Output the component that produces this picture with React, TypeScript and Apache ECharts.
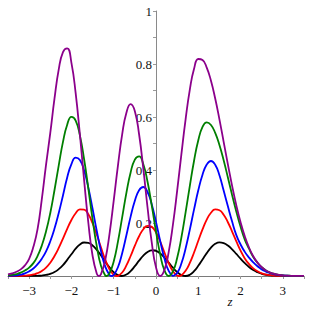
import React, { useEffect, useRef } from "react";
import * as echarts from "echarts";

// sampling grid (z)
const X = [
  -3.5, -3.4, -3.3, -3.2, -3.1, -3.0, -2.9, -2.8, -2.7, -2.6,
  -2.5, -2.4, -2.3, -2.2, -2.1, -2.0, -1.9, -1.8, -1.7, -1.6,
  -1.5, -1.4, -1.3, -1.2, -1.1, -1.0, -0.9, -0.8, -0.7, -0.6,
  -0.5, -0.4, -0.3, -0.2, -0.1, 0.0, 0.1, 0.2, 0.3, 0.4,
  0.5, 0.6, 0.7, 0.8, 0.9, 1.0, 1.1, 1.2, 1.3, 1.4,
  1.5, 1.6, 1.7, 1.8, 1.9, 2.0, 2.1, 2.2, 2.3, 2.4,
  2.5, 2.6, 2.7, 2.8, 2.9, 3.0, 3.1, 3.2, 3.3, 3.4, 3.5,
];

const BLACK = [
  0, 0, 0, 0.0001, 0.0001, 0.0002, 0.0004, 0.0008, 0.0018, 0.004,
  0.008, 0.015, 0.026, 0.041, 0.061, 0.082, 0.103, 0.119, 0.1265, 0.125,
  0.115, 0.0986, 0.0773, 0.0542, 0.0324, 0.0147, 0.0034, 0, 0.0054, 0.0185,
  0.0371, 0.0578, 0.0768, 0.0907, 0.0968, 0.0945, 0.0848, 0.0693, 0.0505, 0.0313,
  0.0149, 0.0039, 0, 0.0047, 0.0182, 0.0384, 0.0623, 0.0864, 0.107, 0.1213,
  0.127, 0.124, 0.115, 0.1005, 0.0832, 0.0652, 0.0483, 0.0338, 0.0224, 0.0141,
  0.0083, 0.0047, 0.0025, 0.0012, 0.0006, 0.0003, 0.0001, 0.0001, 0, 0, 0,
];
const RED = [
  0, 0.0001, 0.0003, 0.0006, 0.0013, 0.0028, 0.0057, 0.0106, 0.0189, 0.0317,
  0.0503, 0.0752, 0.106, 0.1414, 0.178, 0.2114, 0.237, 0.2512, 0.2507, 0.2327,
  0.199, 0.1555, 0.1072, 0.0617, 0.0257, 0.0045, 0.0007, 0.0134, 0.0399, 0.0754,
  0.1145, 0.15, 0.1765, 0.1893, 0.1854, 0.1643, 0.13, 0.0887, 0.0487, 0.0177,
  0.0015, 0.0028, 0.0196, 0.0495, 0.0887, 0.1328, 0.1757, 0.2128, 0.2388, 0.2513,
  0.2483, 0.2313, 0.2029, 0.1678, 0.1307, 0.0959, 0.0664, 0.045, 0.029, 0.018,
  0.01, 0.0055, 0.003, 0.0015, 0.0008, 0.0004, 0.0002, 0.0001, 0, 0, 0,
];
const BLUE = [
  0.0005, 0.0011, 0.0024, 0.0049, 0.0096, 0.0175, 0.0285, 0.0445, 0.0655, 0.093,
  0.131, 0.179, 0.238, 0.304, 0.372, 0.422, 0.447, 0.4378, 0.398, 0.3335,
  0.2537, 0.1697, 0.093, 0.0352, 0.004, 0.0038, 0.0329, 0.0861, 0.1537, 0.224,
  0.2841, 0.3238, 0.3358, 0.317, 0.2703, 0.2041, 0.1315, 0.0657, 0.019, 0.0002,
  0.0109, 0.047, 0.1041, 0.1752, 0.2513, 0.3233, 0.3822, 0.4206, 0.434, 0.42,
  0.3803, 0.3223, 0.2629, 0.2054, 0.1543, 0.1188, 0.091, 0.0695, 0.0515, 0.0367,
  0.0249, 0.0167, 0.011, 0.0064, 0.0036, 0.0019, 0.001, 0.0005, 0.0002, 0.0001, 0,
];
const GREEN = [
  0.0021, 0.0044, 0.0075, 0.0125, 0.0207, 0.0318, 0.0485, 0.0759, 0.1151, 0.1686,
  0.2378, 0.3245, 0.4174, 0.5059, 0.571, 0.6006, 0.5867, 0.5307, 0.4406, 0.3297,
  0.2141, 0.1115, 0.0374, 0.002, 0.0096, 0.0549, 0.1298, 0.2213, 0.3136, 0.3908,
  0.4394, 0.4512, 0.4217, 0.3556, 0.2652, 0.1675, 0.0807, 0.0212, 0, 0.0175,
  0.0679, 0.145, 0.2397, 0.3403, 0.435, 0.5121, 0.5625, 0.58, 0.5698, 0.5402,
  0.4942, 0.4365, 0.3719, 0.3058, 0.2427, 0.1859, 0.1374, 0.103, 0.072, 0.05,
  0.033, 0.021, 0.013, 0.0078, 0.0045, 0.0025, 0.0013, 0.0007, 0.0003, 0.0001, 0,
];
const PURPLE = [
  0.006, 0.01, 0.016, 0.025, 0.04, 0.065, 0.11, 0.178, 0.29, 0.42,
  0.54, 0.67, 0.78, 0.845, 0.859, 0.8043, 0.6899, 0.5342, 0.3618, 0.201,
  0.0764, 0.0087, 0.0069, 0.0604, 0.1583, 0.2842, 0.4169, 0.5341, 0.6161, 0.6487,
  0.622, 0.5349, 0.4049, 0.2585, 0.1255, 0.033, 0, 0.0232, 0.0902, 0.1934,
  0.3209, 0.459, 0.5914, 0.7031, 0.7819, 0.8189, 0.815, 0.7865, 0.7367, 0.6698,
  0.5911, 0.5064, 0.4212, 0.34, 0.2663, 0.2026, 0.1496, 0.1072, 0.0746, 0.0504,
  0.033, 0.021, 0.013, 0.0078, 0.0045, 0.0026, 0.0014, 0.0007, 0.0004, 0.0002, 0.0001,
];

// zeros (nodes)
const ZEROS_BLACK = [-0.81, 0.7];
const ZEROS_RED = [-0.93, 0.54];
const ZEROS_BLUE = [-1.05, 0.41];
const ZEROS_GREEN = [-1.17, 0.3];
const ZEROS_PURPLE = [-1.35, 0.1];

const X_LABELS = [-3, -2, -1, 0, 1, 2, 3];
const X_TICKS = [-3.5, -3, -2.5, -2, -1.5, -1, -0.5, 0, 0.5, 1, 1.5, 2, 2.5, 3, 3.5];
const Y_LABELS = [0.2, 0.4, 0.6, 0.8, 1];
const Y_TICKS = [0.1, 0.2, 0.3, 0.4, 0.5, 0.6, 0.7, 0.8, 0.9, 1];

const CURVES = [
  { name: "black", color: "#000000", y: BLACK, zeros: ZEROS_BLACK },
  { name: "red", color: "#ff0000", y: RED, zeros: ZEROS_RED },
  { name: "blue", color: "#0000ff", y: BLUE, zeros: ZEROS_BLUE },
  { name: "green", color: "#007f00", y: GREEN, zeros: ZEROS_GREEN },
  { name: "purple", color: "#8b008b", y: PURPLE, zeros: ZEROS_PURPLE },
];

const FONT = "'Times New Roman', 'Liberation Serif', serif";
const GRID_LEFT = 8;
const GRID_WIDTH = 296;
const X_MIN = -3.5;
const X_MAX = 3.5;

function buildData(y: number[], zeros: number[]) {
  const pts: [number, number][] = X.map((x, i) => [x, y[i]]);
  zeros.forEach((z) => {
    if (!X.some((x) => Math.abs(x - z) < 1e-9)) pts.push([z, 0]);
  });
  pts.sort((a, b) => a[0] - b[0]);
  return pts;
}

function fmtNum(v: number) {
  const s = String(Math.round(v * 10) / 10);
  return v < 0 ? "\u2212" + s.slice(1) : s;
}

export default function App() {
  const ref = useRef<HTMLDivElement>(null);
  useEffect(() => {
    if (!ref.current) return;
    const chart = echarts.init(ref.current, null, { renderer: "svg" });
    // shift the y axis (line, ticks and labels) to z = 0
    const yOffset = -((0 - X_MIN) / (X_MAX - X_MIN)) * GRID_WIDTH;
    chart.setOption({
      animation: false,
      backgroundColor: "#ffffff",
      textStyle: { fontFamily: FONT },
      grid: { left: GRID_LEFT, width: GRID_WIDTH, top: 11, bottom: 36, outerBoundsMode: "none" },
      xAxis: {
        type: "value",
        min: X_MIN,
        max: X_MAX,
        axisLine: { show: true, onZero: false, lineStyle: { color: "#7a7a7a", width: 1 } },
        axisTick: { show: true, length: 3, customValues: X_TICKS, lineStyle: { color: "#9a9a9a" } },
        axisLabel: {
          customValues: X_LABELS,
          formatter: (v: number) => fmtNum(v),
          color: "#111111",
          fontFamily: FONT,
          fontSize: 13,
          margin: 8,
        },
        splitLine: { show: false },
      },
      yAxis: {
        type: "value",
        min: 0,
        max: 1,
        position: "left",
        offset: yOffset,
        axisLine: { show: true, onZero: false, lineStyle: { color: "#8a8a8a", width: 1 } },
        axisTick: { show: true, length: 3, customValues: Y_TICKS, lineStyle: { color: "#9a9a9a" } },
        axisLabel: {
          customValues: Y_LABELS,
          formatter: (v: number) => fmtNum(v),
          color: "#111111",
          fontFamily: FONT,
          fontSize: 13,
          margin: 4,
        },
        splitLine: { show: false },
      },
      graphic: [
        {
          type: "text",
          x: 230,
          y: 301,
          style: {
            text: "z",
            font: "italic 13px 'Times New Roman', 'Liberation Serif', serif",
            fill: "#111111",
            align: "center",
            verticalAlign: "middle",
          },
        },
      ],
      series: CURVES.map((c, i) => ({
        name: c.name,
        type: "line",
        data: buildData(c.y, c.zeros),
        smooth: true,
        showSymbol: false,
        symbol: "none",
        clip: true,
        z: 2 + i,
        lineStyle: { color: c.color, width: 1.8 },
        itemStyle: { color: c.color },
      })),
    });
    return () => chart.dispose();
  }, []);
  return (
    <div
      ref={ref}
      style={{ position: "fixed", left: 0, top: 0, width: 312, height: 312, background: "#fff" }}
    />
  );
}
